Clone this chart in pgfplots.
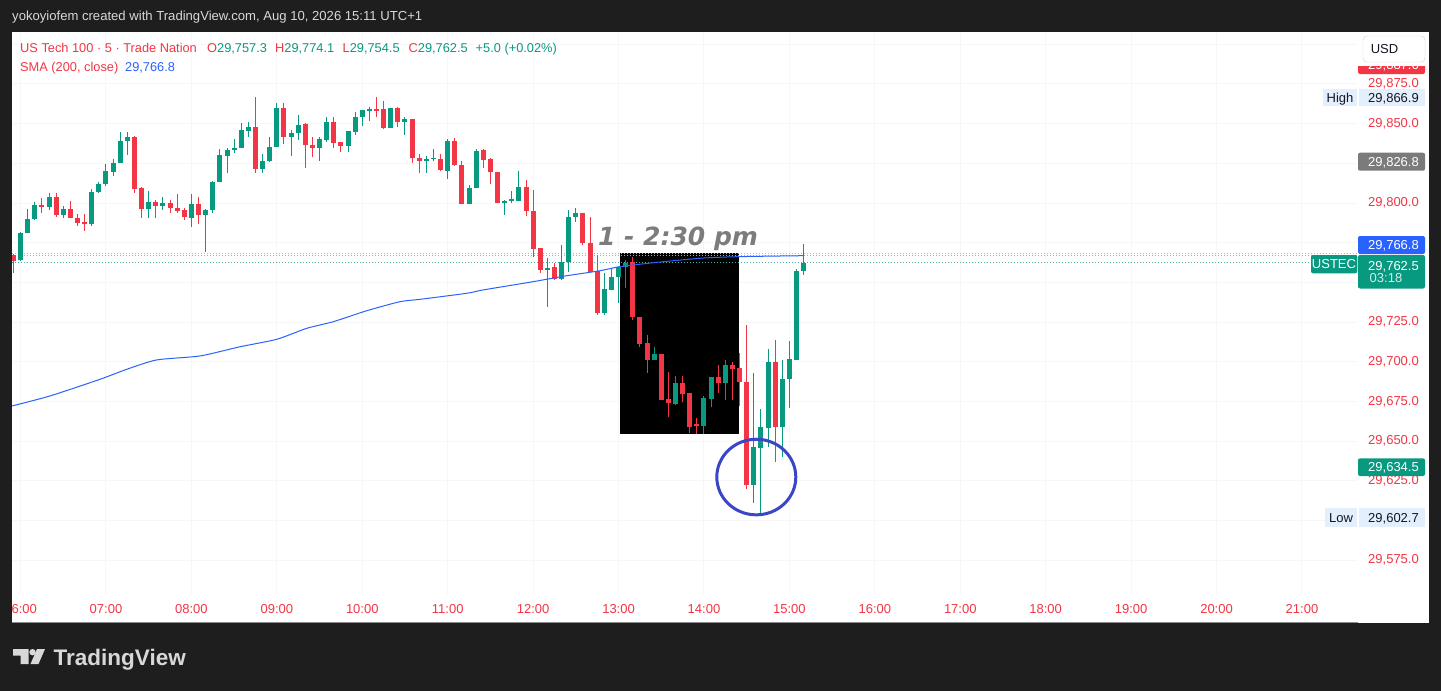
\documentclass[border=0pt]{standalone}
\usepackage{pgfplots}
\pgfplotsset{compat=1.18}
\usepackage{pgfplotstable}
\usepackage{fontspec}
\setmainfont{Liberation Sans}
\newfontface\notefont{DejaVu Sans Bold Oblique}
\newcommand\fs[1]{\fontsize{#1}{#1}\selectfont}

\definecolor{tvbg}{HTML}{1E1E1E}
\definecolor{tvup}{HTML}{089981}
\definecolor{tvdown}{HTML}{F23645}
\definecolor{tvblue}{HTML}{2962FF}
\definecolor{tvgray}{HTML}{7B7B7B}
\definecolor{tvhl}{HTML}{E3EFFD}
\definecolor{tvtext}{HTML}{D8D8D8}
\definecolor{tvink}{HTML}{131722}
\definecolor{notegray}{HTML}{7C7C7C}
\definecolor{ringblue}{HTML}{3A45C8}

% US Tech 100, 5-minute candles; i = candle number counted from 06:00
\pgfplotstableread{
i o h l c
-1 29767.2 29768.0 29755.7 29763.4
0 29763.9 29781.7 29763.4 29781.3
1 29781.3 29796.0 29780.9 29789.7
2 29789.7 29800.8 29789.3 29798.7
3 29798.7 29802.9 29793.9 29797.5
4 29797.5 29806.1 29795.6 29804.0
5 29804.0 29806.5 29791.4 29792.4
6 29792.4 29798.1 29790.3 29796.0
7 29796.0 29801.5 29790.3 29790.8
8 29790.8 29792.9 29785.5 29787.6
9 29787.8 29792.9 29782.6 29786.6
10 29786.6 29808.6 29785.5 29807.1
11 29807.1 29813.4 29806.1 29812.0
12 29812.0 29824.4 29810.7 29820.2
13 29819.8 29827.9 29817.2 29825.4
14 29825.4 29844.5 29825.0 29839.3
15 29839.1 29844.5 29830.3 29841.8
16 29841.8 29842.0 29806.5 29808.6
17 29809.3 29809.9 29790.3 29796.2
18 29796.2 29807.6 29790.3 29800.4
19 29800.4 29801.9 29790.3 29798.3
20 29798.3 29804.0 29795.6 29799.8
21 29799.8 29801.9 29793.9 29796.6
22 29796.8 29805.5 29793.9 29795.2
23 29795.6 29796.6 29789.3 29791.0
24 29790.8 29805.5 29785.1 29799.4
25 29799.4 29804.0 29786.8 29792.4
26 29792.4 29796.2 29769.3 29795.8
27 29795.6 29813.9 29793.9 29813.4
28 29813.4 29834.0 29813.4 29830.3
29 29829.8 29834.5 29819.1 29833.4
30 29833.4 29840.1 29831.3 29834.7
31 29834.5 29850.2 29834.5 29846.0
32 29845.6 29851.3 29841.8 29848.1
33 29848.1 29866.9 29818.7 29821.2
34 29821.2 29830.9 29819.1 29826.5
35 29826.5 29841.8 29826.1 29835.5
36 29835.5 29863.2 29835.5 29859.7
37 29859.7 29862.8 29837.0 29841.8
38 29841.8 29846.0 29829.8 29844.3
39 29844.3 29855.5 29839.7 29849.2
40 29849.6 29850.2 29822.3 29836.3
41 29836.6 29841.4 29828.8 29834.9
42 29834.9 29841.4 29826.5 29840.1
43 29839.7 29854.0 29838.7 29851.3
44 29851.3 29854.0 29834.9 29838.0
45 29838.2 29838.7 29831.9 29835.9
46 29835.9 29845.4 29832.4 29845.4
47 29844.9 29857.3 29842.9 29854.0
48 29854.0 29858.6 29848.5 29858.6
49 29858.2 29860.7 29851.9 29859.0
50 29859.0 29866.6 29854.4 29858.2
51 29859.0 29864.5 29846.4 29847.0
52 29847.5 29860.1 29847.5 29860.1
53 29860.1 29860.7 29848.1 29851.3
54 29851.3 29854.0 29842.9 29852.7
55 29852.7 29852.7 29825.0 29828.1
56 29828.6 29830.9 29818.7 29826.5
57 29826.5 29829.6 29818.7 29827.5
58 29827.7 29834.0 29826.5 29828.6
59 29827.7 29830.9 29820.4 29820.8
60 29820.4 29840.1 29815.1 29839.3
61 29839.3 29840.8 29823.5 29824.0
62 29824.0 29826.5 29799.4 29799.4
63 29799.4 29811.3 29799.4 29809.3
64 29809.3 29834.0 29809.3 29833.0
65 29833.4 29834.0 29822.3 29827.1
66 29827.5 29828.6 29811.8 29819.3
67 29819.3 29819.3 29800.2 29800.2
68 29800.2 29801.9 29792.4 29801.3
69 29801.5 29807.6 29799.8 29802.3
70 29801.5 29820.2 29801.5 29810.3
71 29810.3 29814.5 29792.0 29795.0
72 29795.0 29808.2 29766.2 29770.8
73 29771.4 29771.4 29756.1 29757.8
74 29757.8 29765.1 29734.7 29758.8
75 29759.5 29762.0 29751.7 29752.1
76 29751.9 29773.5 29751.5 29763.0
77 29763.0 29795.6 29756.7 29791.4
78 29791.4 29796.6 29788.2 29793.5
79 29793.5 29794.0 29773.5 29774.6
80 29774.6 29791.4 29756.7 29756.7
81 29757.2 29767.2 29729.4 29730.5
82 29730.5 29755.7 29729.4 29745.6
83 29745.2 29758.8 29745.2 29753.6
84 29753.2 29759.5 29736.8 29759.5
85 29759.5 29764.1 29746.2 29762.4
86 29763.0 29765.8 29726.3 29728.4
87 29728.4 29728.4 29709.5 29711.1
88 29711.6 29716.8 29692.7 29701.1
89 29701.1 29709.0 29701.1 29704.8
90 29704.8 29704.8 29675.8 29675.8
91 29676.7 29693.7 29665.3 29673.8
92 29673.3 29691.0 29672.5 29686.4
93 29686.4 29691.0 29674.8 29679.4
94 29680.1 29680.1 29655.3 29659.0
95 29660.5 29664.3 29654.4 29659.7
96 29659.5 29678.4 29654.4 29676.9
97 29676.7 29690.1 29671.6 29690.1
98 29690.1 29697.9 29680.1 29686.4
99 29686.8 29701.1 29675.8 29697.9
100 29697.9 29700.0 29675.8 29695.2
101 29695.8 29705.7 29672.1 29687.4
102 29687.4 29723.1 29619.5 29622.3
103 29622.3 29692.7 29610.7 29646.4
104 29645.4 29670.0 29602.7 29658.6
105 29658.0 29708.0 29646.4 29699.6
106 29699.6 29713.7 29637.0 29658.6
107 29658.6 29701.1 29640.1 29689.1
108 29689.1 29713.0 29670.6 29701.5
109 29701.1 29758.2 29701.1 29757.3
110 29757.3 29774.1 29754.5 29762.5
}\candles

% SMA (200, close)
\pgfplotstableread{
i sma
-1.20 29672.1
4.13 29678.4
11.16 29688.9
14.91 29695.2
19.12 29701.1
25.20 29703.6
30.82 29709.4
35.98 29714.1
40.19 29721.0
43.93 29725.2
48.62 29732.1
53.30 29737.8
56.11 29739.3
62.67 29743.1
64.96 29745.2
71.98 29750.4
76.48 29754.0
81.39 29757.3
84.20 29759.9
89.82 29762.8
95.86 29765.3
101.06 29766.2
110 29766.8
}\smaline

\begin{document}
\begin{tikzpicture}
% window frame and chart pane
\begin{scope}[x=1pt,y=-1pt]
  \fill[tvbg] (0,0) rectangle (1441,691);
  \fill[white] (12,32) rectangle (1429,623);
\end{scope}

\begin{axis}[
  at={(12pt,-32pt)}, anchor=north west,
  width=1345pt, height=563pt, scale only axis,
  xmin=-1.204, xmax=187.73,
  ymin=29552.95, ymax=29907.77,
  scaled x ticks=false, scaled y ticks=false,
  axis line style={draw=none},
  major tick length=0pt,
  xtick={0,12,24,36,48,60,72,84,96,108,120,132,144,156,168,180},
  xticklabels={06:00,07:00,08:00,09:00,10:00,11:00,12:00,13:00,14:00,15:00,16:00,17:00,18:00,19:00,20:00,21:00},
  xticklabel style={inner sep=0pt, yshift=-9pt},
  ytick={29575,29600,29625,29650,29675,29700,29725,29750,29775,29800,29825,29850,29875,29900},
  yticklabels={{29,575.0},{},{29,625.0},{29,650.0},{29,675.0},{29,700.0},{29,725.0},{},{},{29,800.0},{},{29,850.0},{29,875.0},{}},
  yticklabel pos=right,
  yticklabel style={anchor=west, inner sep=0pt, xshift=11pt},
  tick label style={font=\fs{13}, text=tvdown},
  grid=major,
  grid style={draw=black!3, line width=1pt},
]
% highlighted 13:00 - 14:25 window
\fill[black] (axis cs:84.2,29654.4) rectangle (axis cs:100.9,29768.3);

% price lines
\draw[tvdown!50, dash pattern=on 1pt off 2pt, line width=1pt] (axis cs:-1.204,29768.0) -- (axis cs:187.73,29768.0);
\draw[tvblue!55, dash pattern=on 1pt off 2pt, line width=1pt] (axis cs:-1.204,29766.8) -- (axis cs:187.73,29766.8);
\draw[tvup!75, dash pattern=on 1pt off 2pt, line width=1pt] (axis cs:-1.204,29762.5) -- (axis cs:187.73,29762.5);

% wicks
\addplot[draw=none, mark=none,
  restrict expr to domain={\thisrow{c}-\thisrow{o}}{0:1000},
  error bars/.cd, y dir=minus, y explicit, error mark=none,
  error bar style={draw=tvup, line width=1pt}]
  table[x=i, y=h, y error expr=\thisrow{h}-\thisrow{l}] {\candles};
\addplot[draw=none, mark=none,
  restrict expr to domain={\thisrow{c}-\thisrow{o}}{-1000:0},
  error bars/.cd, y dir=minus, y explicit, error mark=none,
  error bar style={draw=tvdown, line width=1pt}]
  table[x=i, y=h, y error expr=\thisrow{h}-\thisrow{l}] {\candles};
% bodies
\addplot[draw=none, mark=none,
  restrict expr to domain={\thisrow{c}-\thisrow{o}}{0:1000},
  error bars/.cd, y dir=plus, y explicit, error mark=none,
  error bar style={draw=tvup, line width=5pt}]
  table[x=i, y=o, y error expr=\thisrow{c}-\thisrow{o}] {\candles};
\addplot[draw=none, mark=none,
  restrict expr to domain={\thisrow{c}-\thisrow{o}}{-1000:0},
  error bars/.cd, y dir=plus, y explicit, error mark=none,
  error bar style={draw=tvdown, line width=5pt}]
  table[x=i, y=c, y error expr=\thisrow{o}-\thisrow{c}] {\candles};

% moving average
\addplot[tvblue, line width=1pt, line join=round, mark=none, smooth, tension=0.4] table[x=i, y=sma] {\smaline};

% ring round the low
\draw[ringblue, line width=3pt] (axis cs:103.35,29627.3) ellipse [x radius=39.5pt, y radius=37.8pt];
\end{axis}

\begin{scope}[x=1pt,y=-1pt]
  % frame edges over the pane
  \fill[tvbg] (0,32) rectangle (12,623);
  \draw[black!45, line width=1pt] (12,622.5) -- (1358,622.5);

  % header
  \node[anchor=base west, inner sep=0pt, text=tvtext, font=\fs{13.1}] at (12,20.5)
    {yokoyiofem created with TradingView.com, Aug 10, 2026 15:11 UTC+1};

  % legend
  \begin{scope}[every node/.style={anchor=base west, inner sep=0pt, font=\fs{12.8}}]
    \node[text=tvdown] at (20,52) {US Tech 100 · 5 · Trade Nation};
    \node at (207,52) {\textcolor{tvdown}{O}\textcolor{tvup}{29,757.3}};
    \node at (275,52) {\textcolor{tvdown}{H}\textcolor{tvup}{29,774.1}};
    \node at (342.5,52) {\textcolor{tvdown}{L}\textcolor{tvup}{29,754.5}};
    \node at (408.5,52) {\textcolor{tvdown}{C}\textcolor{tvup}{29,762.5}};
    \node[text=tvup] at (475.5,52) {+5.0 (+0.02\%)};
    \node[text=tvdown] at (20,71) {SMA (200, close)};
    \node[text=tvblue] at (125,71) {29,766.8};
  \end{scope}

  % price scale tags
  \begin{scope}[every node/.style={anchor=base, inner sep=0pt, font=\fs{13}}]
    \fill[white, draw=black!18, rounded corners=4pt] (1363,36) rectangle (1425,62);
    \node[text=tvink] at (1384.5,53.5) {USD};

    \begin{scope}
      \clip (1350,66) rectangle (1430,80);
      \fill[tvdown, rounded corners=2pt] (1358,56) rectangle (1425,74);
      \node[text=white] at (1393.5,69.6) {29,887.6};
    \end{scope}

    \fill[tvhl] (1322.5,89.3) rectangle (1357.3,106);
    \fill[tvhl] (1358.7,89.3) rectangle (1425,106);
    \node[text=tvink] at (1340,102.2) {High};
    \node[text=tvink] at (1393.5,102.2) {29,866.9};

    \fill[tvgray, rounded corners=2pt] (1358,152.7) rectangle (1425,170.7);
    \node[text=white] at (1393.5,166.3) {29,826.8};

    \fill[tvblue, rounded corners=2pt] (1358,236) rectangle (1425,254);
    \node[text=white] at (1393.5,249.6) {29,766.8};

    \fill[tvup, rounded corners=2pt] (1358,255) rectangle (1425,288.5);
    \node[text=white] at (1393.5,270) {29,762.5};
    \node[text=white!82!tvup] at (1386,282.7) {03:18};
    \fill[tvup, rounded corners=2pt] (1311,255) rectangle (1357.3,273.3);
    \node[text=white] at (1334,268.8) {USTEC};

    \fill[tvup, rounded corners=2pt] (1358,458.3) rectangle (1425,476);
    \node[text=white] at (1393.5,471.8) {29,634.5};

    \fill[tvhl] (1325,508.3) rectangle (1357.3,526.7);
    \fill[tvhl] (1358.7,508.3) rectangle (1425,526.7);
    \node[text=tvink] at (1341,522.1) {Low};
    \node[text=tvink] at (1393.5,522.1) {29,602.7};
  \end{scope}

  % session note
  \node[anchor=base, inner sep=0pt, text=notegray, font=\fs{25}\notefont] at (678,245) {1 - 2:30 pm};

  % footer logo
  \fill[tvtext] (13,649) -- (28.5,649) -- (28.5,664) -- (20.5,664) -- (20.5,655.5) -- (13,655.5) -- cycle;
  \fill[tvtext] (32.5,652.2) circle[radius=3.2];
  \fill[tvtext] (37,649) -- (45,649) -- (38.5,664) -- (30.5,664) -- cycle;
  \node[anchor=base west, inner sep=0pt, text=tvtext, font=\fs{22.5}\bfseries] at (53.5,665) {TradingView};
\end{scope}
\end{tikzpicture}
\end{document}
